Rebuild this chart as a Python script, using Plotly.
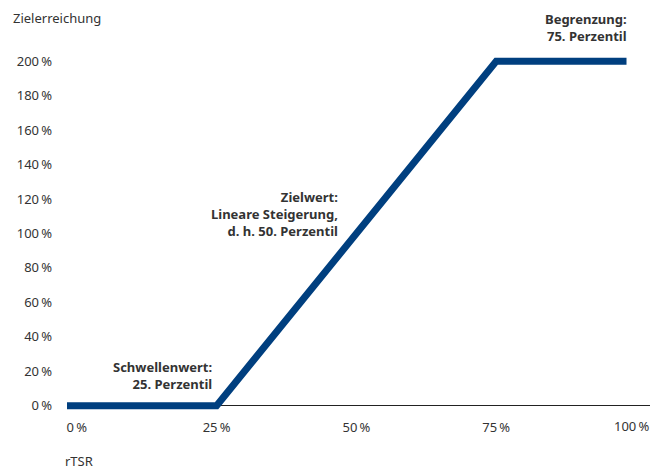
import plotly.graph_objects as go

# line (rTSR percentile vs. target achievement, in %)
x_vals = [-1.75, 25, 75, 98.3]
y_vals = [0, 0, 200, 200]
x_ticks = [0, 25, 50, 75, 100]
x_ticktext = ["0\u2009%", "25\u2009%", "50\u2009%", "75\u2009%", "100\u2009%"]
y_ticks = [0, 20, 40, 60, 80, 100, 120, 140, 160, 180, 200]
y_ticktext = [f"{v}\u2009%" for v in y_ticks]
label_texts = ["Begrenzung:<br>75. Perzentil",
               "Zielwert:<br>Lineare Steigerung,<br>d. h. 50. Perzentil",
               "Schwellenwert:<br>25. Perzentil"]
label_x = [98.3, 46.7, 24.2]
label_y = [200, 100, 0]
label_yshift = [34, 19.5, 30.5]

FONT = "Noto Sans"
TXT = "#333333"
BLUE = "#003f7f"

fig = go.Figure()
fig.add_trace(go.Scatter(x=x_vals, y=y_vals, mode="lines",
                         line=dict(color=BLUE, width=7), hoverinfo="skip"))

# last tick label sits flush with the right edge (as in the reference)
axis_ticktext = x_ticktext[:-1] + [""]

fig.update_layout(
    width=653, height=470,
    margin=dict(l=67, r=3, t=50.65, b=53.65, autoexpand=False),
    plot_bgcolor="white", paper_bgcolor="white",
    showlegend=False,
    font=dict(family=FONT, size=13, color=TXT),
    xaxis=dict(range=[-1.75, 102.5], tickvals=x_ticks, ticktext=axis_ticktext,
               showgrid=False, zeroline=False, showline=False, ticks="",
               ticklabelstandoff=2, automargin=False, fixedrange=True),
    yaxis=dict(range=[-6, 206], tickvals=y_ticks, ticktext=y_ticktext,
               showgrid=False, zeroline=True, zerolinecolor="#222222",
               zerolinewidth=1, showline=False, ticks="",
               ticklabelstandoff=14, automargin=False, fixedrange=True),
)

fig.add_annotation(x=1, y=0, xref="paper", yref="paper", text=x_ticktext[-1],
                   showarrow=False, xanchor="right", yanchor="middle",
                   xshift=1, yshift=-10,
                   font=dict(family=FONT, size=13, color=TXT))

for xv, yv, ys, txt in zip(label_x, label_y, label_yshift, label_texts):
    fig.add_annotation(x=xv, y=yv, xref="x", yref="y", text=f"<b>{txt}</b>",
                       showarrow=False, xanchor="right", yanchor="middle",
                       align="right", xshift=2, yshift=ys,
                       font=dict(family=FONT, size=13, color=TXT))

fig.add_annotation(x=0, y=1, xref="paper", yref="paper", xshift=-56, yshift=32.65,
                   text="Zielerreichung", showarrow=False, xanchor="left",
                   yanchor="middle", font=dict(family=FONT, size=13, color=TXT))
fig.add_annotation(x=0, y=0, xref="paper", yref="paper", xshift=-4, yshift=-45,
                   text="rTSR", showarrow=False, xanchor="left",
                   yanchor="middle", font=dict(family=FONT, size=13, color=TXT))

fig.write_html("out.html", config={"displayModeBar": False},
               post_script="document.body.style.margin='0';")
